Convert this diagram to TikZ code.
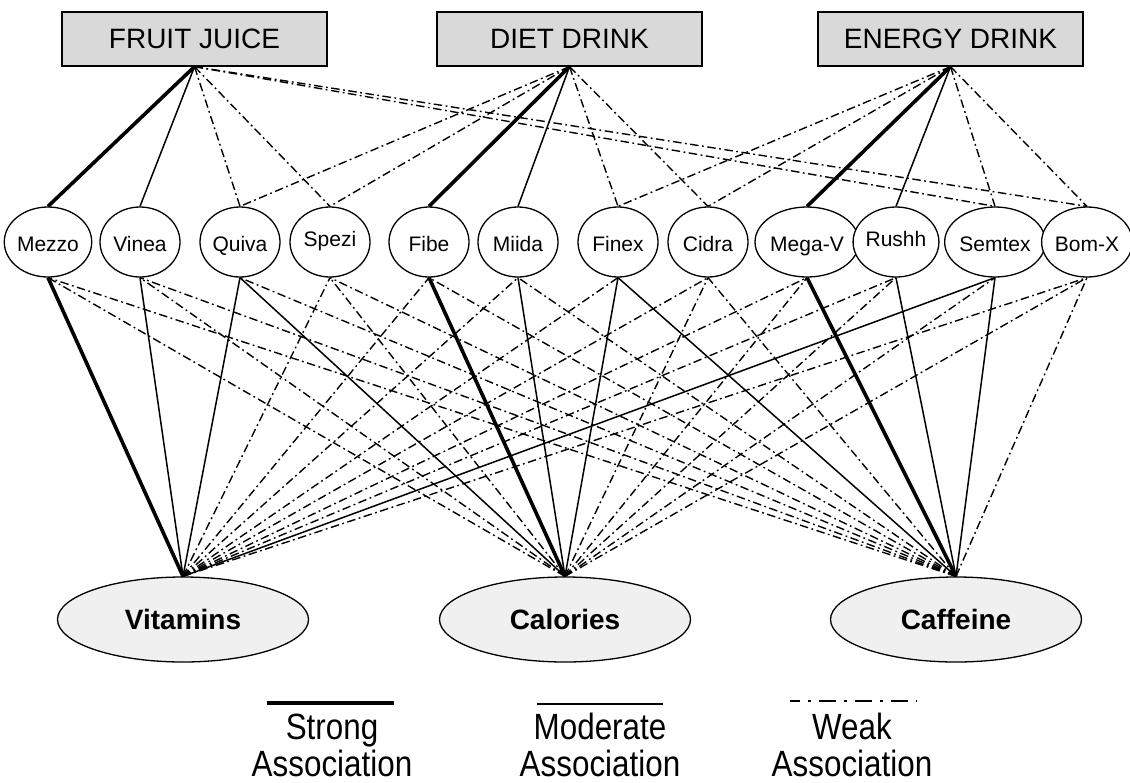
\documentclass[tikz,border=0pt]{standalone}
\usepackage{fontspec}
\setmainfont{Liberation Sans}
\newfontfamily\narrowfont[FakeStretch=0.86]{Liberation Sans}
\usetikzlibrary{shapes.geometric}
\definecolor{boxgray}{RGB}{217,217,217}
\definecolor{ellgray}{RGB}{240,240,240}
\begin{document}
\begin{tikzpicture}[x=1pt,y=-1pt,
  catbox/.style={draw=black,line width=1.3pt,fill=boxgray,minimum width=265pt,minimum height=54pt,inner sep=0pt,font=\fontsize{28}{30}\selectfont},
  prod/.style={ellipse,draw=black,line width=1.3pt,fill=white,minimum width=80pt,minimum height=70pt,inner sep=0pt,text height=18.5pt,text depth=0pt,font=\fontsize{21}{23}\selectfont},
  prodhi/.style={prod,text depth=9pt},
  nutr/.style={ellipse,draw=black,line width=1.3pt,fill=ellgray,minimum width=251pt,minimum height=85pt,inner sep=0pt,font=\bfseries\fontsize{28}{30}\selectfont},
  strongline/.style={line width=3.6pt},
  modline/.style={line width=1.5pt},
  weakline/.style={line width=1.4pt,dash pattern=on 8.5pt off 3.5pt on 1.8pt off 3.5pt},
  legtxt/.style={align=center,inner sep=0pt,font=\narrowfont\fontsize{36.5}{36.5}\selectfont}
]
\useasboundingbox (0,0) rectangle (1130,782);

% categories
\node[catbox] (fj) at (194.5,39) {FRUIT JUICE};
\node[catbox] (dd) at (569.5,39) {DIET DRINK};
\node[catbox] (ed) at (950.5,39) {ENERGY DRINK};

% products
\node[prod,minimum width=77pt] (mezzo) at (48,242) {Mezzo};
\node[prod] (vinea) at (140,242) {Vinea};
\node[prod] (quiva) at (240,242) {Quiva};
\node[prodhi] (spezi) at (330,242) {Spezi};
\node[prod] (fibe) at (429,242) {Fibe};
\node[prod] (miida) at (518,242) {Miida};
\node[prod] (finex) at (618,242) {Finex};
\node[prod] (cidra) at (708,242) {Cidra};
\node[prod] (megav) at (807,242) {Mega-V};
\node[prodhi] (rushh) at (896,242) {Rushh};
\node[prod] (semtex) at (995,242) {Semtex};
\node[prod] (bomx) at (1087,242) {Bom-X};

% nutrients
\node[nutr] (vit) at (183,619.5) {Vitamins};
\node[nutr] (cal) at (565,619.5) {Calories};
\node[nutr] (caf) at (956,619.5) {Caffeine};

% category links
\foreach \p/\s in {mezzo/strongline,vinea/modline,quiva/weakline,spezi/weakline,semtex/weakline,bomx/weakline}
  \draw[\s] (fj.south) -- (\p.north);
\foreach \p/\s in {quiva/weakline,spezi/weakline,fibe/strongline,miida/modline,finex/weakline,cidra/weakline}
  \draw[\s] (dd.south) -- (\p.north);
\foreach \p/\s in {finex/weakline,cidra/weakline,megav/strongline,rushh/modline,semtex/weakline,bomx/weakline}
  \draw[\s] (ed.south) -- (\p.north);

% nutrient links
\foreach \p/\s in {mezzo/strongline,vinea/modline,quiva/modline,spezi/weakline,fibe/weakline,miida/weakline,finex/weakline,cidra/weakline,megav/weakline,rushh/weakline,semtex/modline,bomx/weakline}
  \draw[\s] (vit.north) -- (\p.south);
\foreach \p/\s in {mezzo/weakline,vinea/weakline,quiva/modline,spezi/weakline,fibe/strongline,miida/modline,finex/modline,cidra/weakline,megav/weakline,rushh/weakline,semtex/weakline,bomx/weakline}
  \draw[\s] (cal.north) -- (\p.south);
\foreach \p/\s in {mezzo/weakline,vinea/weakline,quiva/weakline,spezi/weakline,fibe/weakline,miida/weakline,finex/modline,cidra/weakline,megav/strongline,rushh/modline,semtex/modline,bomx/weakline}
  \draw[\s] (caf.north) -- (\p.south);

% legend
\coordinate (sa) at (267,703);
\coordinate (sb) at (394,703);
\coordinate (ma) at (537,704);
\coordinate (mb) at (663,704);
\coordinate (wa) at (790,701);
\coordinate (wb) at (917,701);
\draw[line width=4pt] (sa) -- (sb);
\draw[line width=2pt] (ma) -- (mb);
\draw[line width=2pt,dash pattern=on 17pt off 8pt on 3pt off 8pt,dash phase=7pt] (wa) -- (wb);
\node[legtxt,anchor=base] (lstrong) at (332,776) {Strong\\Association};
\node[legtxt,anchor=base] (lmod) at (600,776) {Moderate\\Association};
\node[legtxt,anchor=base] (lweak) at (852,776) {Weak\\Association};
\end{tikzpicture}
\end{document}
